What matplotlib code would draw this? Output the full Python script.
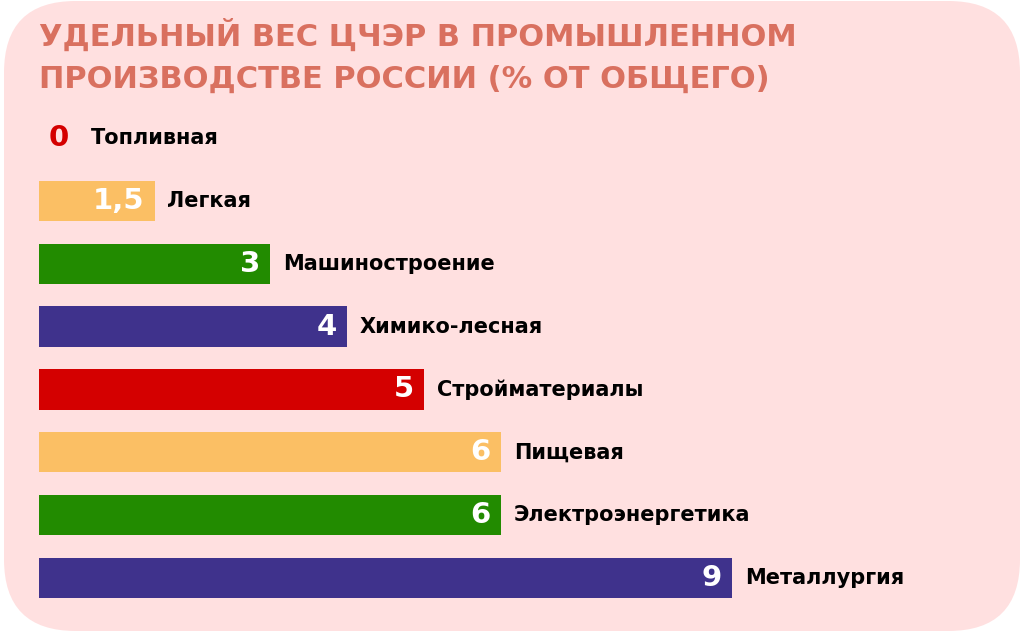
import matplotlib.pyplot as plt
from matplotlib.patches import FancyBboxPatch

# data
categories = ["Топливная", "Легкая", "Машиностроение", "Химико-лесная",
              "Стройматериалы", "Пищевая", "Электроэнергетика", "Металлургия"]
values = [0, 1.5, 3, 4, 5, 6, 6, 9]
colors = ["#D40000", "#FBBF64", "#228B00", "#3F328C",
          "#D40000", "#FBBF64", "#228B00", "#3F328C"]

title = "УДЕЛЬНЫЙ ВЕС ЦЧЭР В ПРОМЫШЛЕННОМ\nПРОИЗВОДСТВЕ РОССИИ (% ОТ ОБЩЕГО)"

plt.rcParams["font.family"] = ["DejaVu Sans"]

fig = plt.figure(figsize=(10.24, 6.31), dpi=100)
fig.patch.set_facecolor("white")

# pink rounded card
card = FancyBboxPatch((4 / 1024, 0), 1016 / 1024, 630 / 631,
                      boxstyle="round,pad=0,rounding_size=0.07",
                      transform=fig.transFigure, facecolor="#FFE0E0",
                      edgecolor="none", mutation_aspect=1024 / 631, zorder=-5)
fig.patches.append(card)

ax = fig.add_axes([0, 0, 1, 1])
ax.set_facecolor("none")
px = 77.0  # pixels per unit
ax.set_xlim(-39 / px, (1024 - 39) / px)
row = 62.86
ax.set_ylim((631 - 138) / row, -138 / row)
ax.axis("off")

ypos = list(range(len(categories)))
ax.barh(ypos, values, height=0.64, color=colors)

for y, v, c, name in zip(ypos, values, colors, categories):
    lab = f"{v:g}".replace(".", ",")
    if v == 0:
        ax.text(v + 10 / px, y, lab, ha="left", va="center", color=c,
                fontsize=21, fontweight="bold")
        ax.text(v + 52 / px, y, name, ha="left", va="center", color="black",
                fontsize=15, fontweight="bold")
    else:
        ax.text(v - 10 / px, y, lab, ha="right", va="center", color="white",
                fontsize=21, fontweight="bold")
        ax.text(v + 13 / px, y, name, ha="left", va="center", color="black",
                fontsize=15, fontweight="bold")

fig.text(39 / 1024, 1 - 19 / 631, title, ha="left", va="top",
         color="#D9705F", fontsize=22, fontweight="bold", linespacing=1.55)

fig.savefig("out.png", dpi=100)
